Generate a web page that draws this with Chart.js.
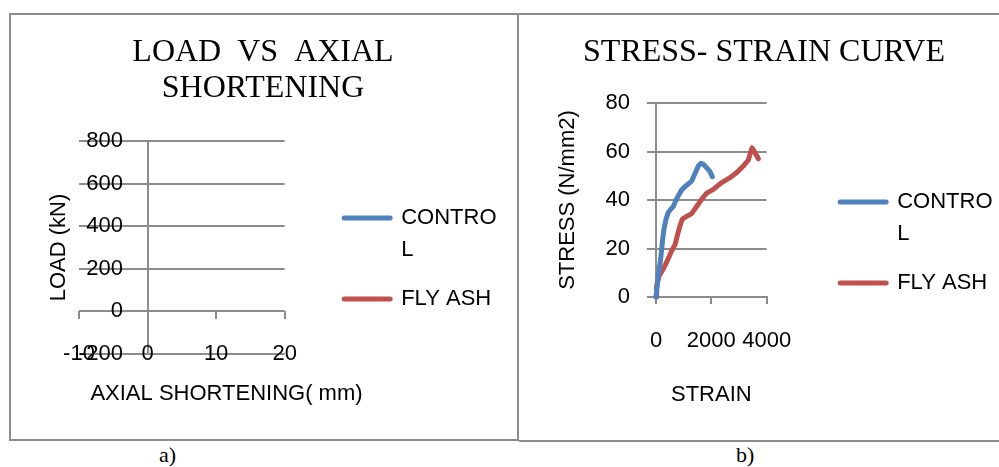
<!DOCTYPE html>
<html>
<head>
<meta charset="utf-8">
<script src="https://cdn.jsdelivr.net/npm/chart.js@4.4.1/dist/chart.umd.min.js"></script>
<style>
  body { margin: 0; background: #fff; width: 999px; height: 467px; position: relative; overflow: hidden; }
  .panel { position: absolute; box-sizing: border-box; border-color: #8c8c8c; border-style: solid; }
  #panelA { left: 9px; top: 13px; width: 510px; height: 428px; border-width: 2px; }
  #panelB { left: 519px; top: 13px; width: 480px; height: 429px; border-width: 2px 0 2px 0; }
  canvas { position: absolute; }
  #loadChart { left: 10px; top: 15px; }
  #stressChart { left: 520px; top: 15px; }
  .cap { position: absolute; font-family: "Liberation Serif", serif; font-size: 22px; top: 442px; }
</style>
</head>
<body>
<div class="panel" id="panelA"></div>
<div class="panel" id="panelB"></div>
<canvas id="loadChart" width="508" height="424"></canvas>
<canvas id="stressChart" width="479" height="425"></canvas>
<div class="cap" style="left:159px">a)</div>
<div class="cap" style="left:736px">b)</div>
<script>
// Series labels
const seriesNames = [['CONTRO', 'L'], 'FLY ASH'];
const seriesColors = ['#4F81BD', '#C0504D'];

// Load vs axial shortening (no data plotted)
const loadTicksX = [-10, 0, 10, 20];
const loadTicksY = [-200, 0, 200, 400, 600, 800];

// Stress-strain, CONTROL
const controlStrain = [0, 84, 169, 241, 289, 361, 446, 530, 627, 687, 771, 928, 1109, 1289, 1410, 1530, 1627, 1711, 1832, 1952, 2036];
const controlStress = [0, 8.9, 15.7, 23.9, 28, 32.1, 34.9, 36.2, 37.3, 39, 41, 44.2, 46.1, 47.8, 50.9, 54, 55.1, 54.7, 53.3, 51.7, 49.6];

// Stress-strain, FLY ASH
const flyStrain = [0, 24, 120, 265, 410, 566, 687, 771, 868, 952, 1109, 1289, 1470, 1651, 1832, 2073, 2374, 2675, 2916, 3157, 3338, 3398, 3470, 3579, 3699];
const flyStress = [0, 4.8, 8.9, 11.6, 15, 19.1, 21.5, 25.3, 29.4, 32.1, 33.2, 34.4, 37.3, 40.3, 42.8, 44.4, 47.2, 49.2, 51.3, 54, 56.5, 58.8, 61.5, 59.5, 57];

const strainTicks = [0, 2000, 4000];
const stressTicks = [0, 20, 40, 60, 80];

const SANS = 'Liberation Sans';
const SERIF = 'Liberation Serif';
const GRID = '#8c8c8c';

function pts(xs, ys) {
    return xs.map((x, i) => ({ x: x, y: ys[i] }));
}

function lineSet(i, data) {
    return {
        label: seriesNames[i],
        data: data,
        borderColor: seriesColors[i],
        backgroundColor: seriesColors[i],
        borderWidth: 5,
        borderCapStyle: 'round',
        borderJoinStyle: 'round',
        pointRadius: 0,
        tension: 0,
        clip: false
    };
}

function legendOpts(offset) {
    return {
        position: 'right',
        align: 'start',
        maxWidth: 300,
        title: { display: true, text: '', padding: { top: offset, bottom: 0 }, font: { size: 1, lineHeight: 1 } },
        labels: {
            boxWidth: 46,
            boxHeight: 0,
            padding: 17,
            color: '#000',
            font: { family: SANS, size: 22, lineHeight: 32 / 22 }
        }
    };
}

function spacer(pos, w) {
    return {
        axis: 'y', type: 'linear', position: pos, display: true,
        grid: { display: false }, border: { display: false }, ticks: { display: false },
        afterFit: s => { s.width = w; }
    };
}

function tickFont() {
    return { family: SANS, size: 22 };
}

function titleFont() {
    return { family: SERIF, size: 32, weight: 'normal', lineHeight: 36 / 32 };
}

function plain(v) {
    return String(v);
}

// the x title of chart a) is wider than the plot, so give it room
const wideXTitle = {
    id: 'wideXTitle',
    afterLayout(chart) {
        const s = chart.scales.x;
        s.right = s.left + 295;
    }
};

Chart.defaults.font.family = SANS;
Chart.defaults.color = '#000';

// a) load vs axial shortening
new Chart(document.getElementById('loadChart'), {
    type: 'line',
    data: { datasets: [lineSet(0, []), lineSet(1, [])] },
    plugins: [wideXTitle],
    options: {
        responsive: false,
        animation: false,
        devicePixelRatio: 1,
        layout: { padding: { left: 9.5, right: 11.5, top: 0, bottom: 85 } },
        plugins: {
            title: {
                display: true,
                text: ['LOAD  VS  AXIAL', 'SHORTENING'],
                color: '#000',
                font: titleFont(),
                padding: { top: 20, bottom: 34 }
            },
            legend: legendOpts(174),
            tooltip: { enabled: false }
        },
        scales: {
            x: {
                type: 'linear',
                position: { y: 0 },
                min: loadTicksX[0],
                max: loadTicksX[loadTicksX.length - 1],
                afterBuildTicks: s => { s.ticks = loadTicksX.map(v => ({ value: v })); },
                ticks: { font: tickFont(), color: '#000', padding: 21, autoSkip: false, maxRotation: 0, callback: plain },
                // only the zero line is drawn across the plot: it is the vertical axis
                grid: {
                    drawOnChartArea: true,
                    drawTicks: true,
                    tickLength: 8,
                    color: c => (c.tick && c.tick.value === 0 ? GRID : 'rgba(0,0,0,0)'),
                    tickColor: GRID,
                    lineWidth: 2
                },
                border: { display: false },
                title: { display: true, text: 'AXIAL SHORTENING( mm)', color: '#000', font: tickFont(), padding: { top: 0, bottom: 14 } },
                afterFit: s => { s.height = 110; }
            },
            y: {
                type: 'linear',
                position: 'left',
                min: loadTicksY[0],
                max: loadTicksY[loadTicksY.length - 1],
                afterBuildTicks: s => { s.ticks = loadTicksY.map(v => ({ value: v })); },
                ticks: { display: false },
                grid: { drawTicks: false, color: GRID, lineWidth: 2 },
                border: { display: false },
                title: { display: true, text: 'LOAD (kN)', color: '#000', font: tickFont(), padding: { top: 26, bottom: 0 } },
                afterFit: s => { s.width = 59.5; }
            },
            // tick labels of the load axis sit inside the plot, as in the original
            yLabels: {
                axis: 'y',
                type: 'linear',
                position: { x: -3.6 },
                min: loadTicksY[0],
                max: loadTicksY[loadTicksY.length - 1],
                afterBuildTicks: s => { s.ticks = loadTicksY.map(v => ({ value: v })); },
                ticks: { font: tickFont(), color: '#000', padding: 0, callback: plain },
                grid: { display: false },
                border: { display: false }
            },
            padR: spacer('right', 42.5)
        }
    }
});

// b) stress-strain curve
new Chart(document.getElementById('stressChart'), {
    type: 'line',
    data: {
        datasets: [
            lineSet(0, pts(controlStrain, controlStress)),
            lineSet(1, pts(flyStrain, flyStress))
        ]
    },
    options: {
        responsive: false,
        animation: false,
        devicePixelRatio: 1,
        layout: { padding: { left: 5.5, right: -3.5, top: 0, bottom: 0 } },
        plugins: {
            title: {
                display: true,
                text: 'STRESS- STRAIN CURVE',
                color: '#000',
                font: titleFont(),
                padding: { top: 20, bottom: 32 }
            },
            legend: legendOpts(158),
            tooltip: { enabled: false }
        },
        scales: {
            x: {
                type: 'linear',
                min: strainTicks[0],
                max: strainTicks[strainTicks.length - 1],
                afterBuildTicks: s => { s.ticks = strainTicks.map(v => ({ value: v })); },
                ticks: { font: tickFont(), color: '#000', padding: 24, autoSkip: false, maxRotation: 0, callback: plain },
                grid: { drawOnChartArea: false, drawTicks: true, tickLength: 7, color: GRID, lineWidth: 2 },
                border: { display: true, color: GRID, width: 2 },
                title: { display: true, text: 'STRAIN', color: '#000', font: tickFont(), padding: { top: 0, bottom: 32 } },
                afterFit: s => { s.height = 143; }
            },
            y: {
                type: 'linear',
                min: stressTicks[0],
                max: stressTicks[stressTicks.length - 1],
                afterBuildTicks: s => { s.ticks = stressTicks.map(v => ({ value: v })); },
                ticks: { font: tickFont(), color: '#000', padding: 17, callback: plain },
                grid: { drawTicks: true, tickLength: 9, color: GRID, lineWidth: 2 },
                border: { display: true, color: GRID, width: 2 },
                title: { display: true, text: 'STRESS (N/mm2)', color: '#000', font: tickFont(), padding: { top: 29, bottom: 0 } },
                afterFit: s => { s.width = 130.5; }
            },
            padR: spacer('right', 56.5)
        }
    }
});
</script>
</body>
</html>
